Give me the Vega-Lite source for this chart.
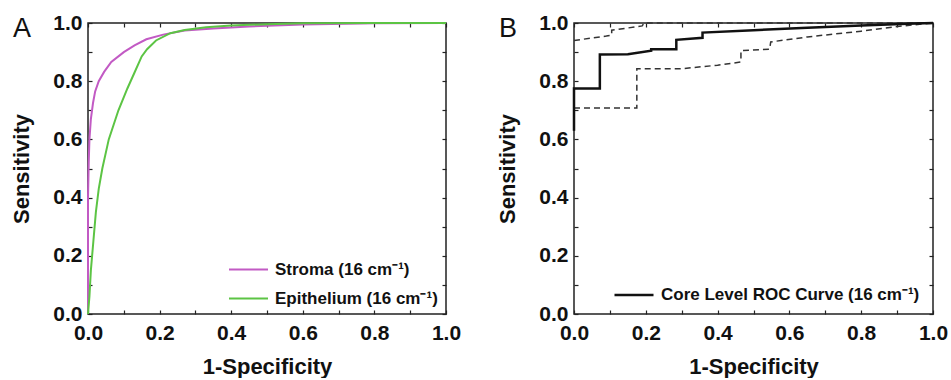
{
  "$schema": "https://vega.github.io/schema/vega-lite/v6.json",
  "background": "white",
  "padding": {"left": 10, "top": 11, "right": 0, "bottom": 0},
  "bounds": "flush",
  "spacing": 128,
  "resolve": {"scale": {"color": "independent"}, "legend": {"color": "independent"}},
  "config": {
    "font": "Liberation Sans",
    "view": {"stroke": "#222", "strokeWidth": 1.5},
    "axis": {
      "domain": false, "grid": false, "tickColor": "#222", "tickSize": -4, "tickWidth": 1.2,
      "labelFont": "Liberation Sans", "labelFontWeight": "bold", "labelFontSize": 21, "labelColor": "#111",
      "titleFont": "Liberation Sans", "titleFontWeight": "bold", "titleFontSize": 22, "titleColor": "#111",
      "labelFlush": false, "labelOverlap": false
    },
    "legend": {
      "orient": "none", "symbolType": "stroke", "symbolSize": 1521, "symbolStrokeWidth": 2,
      "labelFont": "Liberation Sans", "labelFontWeight": "bold", "labelFontSize": 17, "labelColor": "#111",
      "labelOffset": 6, "rowPadding": -10, "padding": 0, "labelLimit": 400
    },
    "title": {"font": "Liberation Sans", "fontSize": 27, "fontWeight": "normal", "color": "#111", "anchor": "start", "frame": "group", "offset": 0, "baseline": "alphabetic"}
  },
  "hconcat": [
    {
      "width": 358, "height": 291,
      "title": {"text": "A", "dx": -75, "dy": 35},
      "data": {"values": [
        {"series": "Stroma (16 cm⁻¹)", "fpr": 0, "tpr": 0},
        {"series": "Stroma (16 cm⁻¹)", "fpr": 0, "tpr": 0.4},
        {"series": "Stroma (16 cm⁻¹)", "fpr": 0.002, "tpr": 0.52},
        {"series": "Stroma (16 cm⁻¹)", "fpr": 0.004, "tpr": 0.6},
        {"series": "Stroma (16 cm⁻¹)", "fpr": 0.008, "tpr": 0.67},
        {"series": "Stroma (16 cm⁻¹)", "fpr": 0.014, "tpr": 0.725},
        {"series": "Stroma (16 cm⁻¹)", "fpr": 0.02, "tpr": 0.765},
        {"series": "Stroma (16 cm⁻¹)", "fpr": 0.03, "tpr": 0.8},
        {"series": "Stroma (16 cm⁻¹)", "fpr": 0.045, "tpr": 0.832},
        {"series": "Stroma (16 cm⁻¹)", "fpr": 0.065, "tpr": 0.866},
        {"series": "Stroma (16 cm⁻¹)", "fpr": 0.1, "tpr": 0.9},
        {"series": "Stroma (16 cm⁻¹)", "fpr": 0.13, "tpr": 0.923},
        {"series": "Stroma (16 cm⁻¹)", "fpr": 0.163, "tpr": 0.944},
        {"series": "Stroma (16 cm⁻¹)", "fpr": 0.21, "tpr": 0.96},
        {"series": "Stroma (16 cm⁻¹)", "fpr": 0.27, "tpr": 0.974},
        {"series": "Stroma (16 cm⁻¹)", "fpr": 0.35, "tpr": 0.981},
        {"series": "Stroma (16 cm⁻¹)", "fpr": 0.45, "tpr": 0.988},
        {"series": "Stroma (16 cm⁻¹)", "fpr": 0.6, "tpr": 0.995},
        {"series": "Stroma (16 cm⁻¹)", "fpr": 0.8, "tpr": 0.999},
        {"series": "Stroma (16 cm⁻¹)", "fpr": 1, "tpr": 1},
        {"series": "Epithelium (16 cm⁻¹)", "fpr": 0, "tpr": 0},
        {"series": "Epithelium (16 cm⁻¹)", "fpr": 0.004, "tpr": 0.06},
        {"series": "Epithelium (16 cm⁻¹)", "fpr": 0.008, "tpr": 0.15},
        {"series": "Epithelium (16 cm⁻¹)", "fpr": 0.015, "tpr": 0.25},
        {"series": "Epithelium (16 cm⁻¹)", "fpr": 0.022, "tpr": 0.35},
        {"series": "Epithelium (16 cm⁻¹)", "fpr": 0.03, "tpr": 0.43},
        {"series": "Epithelium (16 cm⁻¹)", "fpr": 0.04, "tpr": 0.5},
        {"series": "Epithelium (16 cm⁻¹)", "fpr": 0.058, "tpr": 0.6},
        {"series": "Epithelium (16 cm⁻¹)", "fpr": 0.085, "tpr": 0.7},
        {"series": "Epithelium (16 cm⁻¹)", "fpr": 0.11, "tpr": 0.775},
        {"series": "Epithelium (16 cm⁻¹)", "fpr": 0.13, "tpr": 0.83},
        {"series": "Epithelium (16 cm⁻¹)", "fpr": 0.15, "tpr": 0.885},
        {"series": "Epithelium (16 cm⁻¹)", "fpr": 0.165, "tpr": 0.91},
        {"series": "Epithelium (16 cm⁻¹)", "fpr": 0.19, "tpr": 0.94},
        {"series": "Epithelium (16 cm⁻¹)", "fpr": 0.23, "tpr": 0.965},
        {"series": "Epithelium (16 cm⁻¹)", "fpr": 0.27, "tpr": 0.976},
        {"series": "Epithelium (16 cm⁻¹)", "fpr": 0.33, "tpr": 0.985},
        {"series": "Epithelium (16 cm⁻¹)", "fpr": 0.4, "tpr": 0.991},
        {"series": "Epithelium (16 cm⁻¹)", "fpr": 0.5, "tpr": 0.996},
        {"series": "Epithelium (16 cm⁻¹)", "fpr": 0.6, "tpr": 0.999},
        {"series": "Epithelium (16 cm⁻¹)", "fpr": 0.8, "tpr": 1},
        {"series": "Epithelium (16 cm⁻¹)", "fpr": 1, "tpr": 1}
      ]},
      "resolve": {"axis": {"x": "independent", "y": "independent"}},
      "layer": [
        {
          "mark": {"type": "line", "strokeWidth": 2},
          "encoding": {
            "x": {"field": "fpr", "type": "quantitative", "scale": {"domain": [0, 1], "nice": false, "zero": false},
              "axis": {"orient": "bottom", "title": "1-Specificity", "values": [0, 0.1, 0.2, 0.3, 0.4, 0.5, 0.6, 0.7, 0.8, 0.9, 1],
                "labelExpr": "abs(datum.value*5 - round(datum.value*5)) < 0.001 ? format(datum.value, '.1f') : ''",
                "labelPadding": 12, "titlePadding": 13}},
            "y": {"field": "tpr", "type": "quantitative", "scale": {"domain": [0, 1], "nice": false, "zero": false},
              "axis": {"orient": "left", "title": "Sensitivity", "values": [0, 0.1, 0.2, 0.3, 0.4, 0.5, 0.6, 0.7, 0.8, 0.9, 1],
                "labelExpr": "abs(datum.value*5 - round(datum.value*5)) < 0.001 ? format(datum.value, '.1f') : ''",
                "labelPadding": 10, "titlePadding": 19}},
            "color": {"field": "series", "type": "nominal",
              "scale": {"domain": ["Stroma (16 cm⁻¹)", "Epithelium (16 cm⁻¹)"], "range": ["#c25ac4", "#5cc444"]},
              "legend": {"title": null, "legendX": 140, "legendY": 226}},
            "order": [{"field": "fpr", "type": "quantitative"}, {"field": "tpr", "type": "quantitative"}]
          }
        },
        {
          "mark": {"type": "point", "opacity": 0},
          "encoding": {
            "x": {"field": "fpr", "type": "quantitative", "scale": {"domain": [0, 1], "nice": false, "zero": false},
              "axis": {"orient": "top", "title": null, "labels": false, "values": [0, 0.1, 0.2, 0.3, 0.4, 0.5, 0.6, 0.7, 0.8, 0.9, 1]}},
            "y": {"field": "tpr", "type": "quantitative", "scale": {"domain": [0, 1], "nice": false, "zero": false},
              "axis": {"orient": "right", "title": null, "labels": false, "values": [0, 0.1, 0.2, 0.3, 0.4, 0.5, 0.6, 0.7, 0.8, 0.9, 1]}}
          }
        }
      ]
    },
    {
      "width": 359, "height": 291,
      "title": {"text": "B", "dx": -75, "dy": 35},
      "data": {"values": [
        {"curve": "core", "fpr": 0, "tpr": 0.63},
        {"curve": "core", "fpr": 0, "tpr": 0.775},
        {"curve": "core", "fpr": 0.072, "tpr": 0.775},
        {"curve": "core", "fpr": 0.072, "tpr": 0.892},
        {"curve": "core", "fpr": 0.15, "tpr": 0.893},
        {"curve": "core", "fpr": 0.215, "tpr": 0.905},
        {"curve": "core", "fpr": 0.215, "tpr": 0.91},
        {"curve": "core", "fpr": 0.285, "tpr": 0.91},
        {"curve": "core", "fpr": 0.285, "tpr": 0.942},
        {"curve": "core", "fpr": 0.358, "tpr": 0.949},
        {"curve": "core", "fpr": 0.358, "tpr": 0.967},
        {"curve": "core", "fpr": 0.5, "tpr": 0.975},
        {"curve": "core", "fpr": 0.65, "tpr": 0.984},
        {"curve": "core", "fpr": 0.8, "tpr": 0.991},
        {"curve": "core", "fpr": 0.93, "tpr": 0.997},
        {"curve": "core", "fpr": 1, "tpr": 1},
        {"curve": "upper", "fpr": 0, "tpr": 0.94},
        {"curve": "upper", "fpr": 0.09, "tpr": 0.955},
        {"curve": "upper", "fpr": 0.105, "tpr": 0.958},
        {"curve": "upper", "fpr": 0.105, "tpr": 0.975},
        {"curve": "upper", "fpr": 0.19, "tpr": 0.99},
        {"curve": "upper", "fpr": 0.195, "tpr": 1},
        {"curve": "upper", "fpr": 1, "tpr": 1},
        {"curve": "lower", "fpr": 0, "tpr": 0.708},
        {"curve": "lower", "fpr": 0.175, "tpr": 0.708},
        {"curve": "lower", "fpr": 0.175, "tpr": 0.843},
        {"curve": "lower", "fpr": 0.3, "tpr": 0.843},
        {"curve": "lower", "fpr": 0.4, "tpr": 0.855},
        {"curve": "lower", "fpr": 0.465, "tpr": 0.866},
        {"curve": "lower", "fpr": 0.465, "tpr": 0.905},
        {"curve": "lower", "fpr": 0.545, "tpr": 0.91},
        {"curve": "lower", "fpr": 0.548, "tpr": 0.935},
        {"curve": "lower", "fpr": 0.65, "tpr": 0.952},
        {"curve": "lower", "fpr": 0.8, "tpr": 0.972},
        {"curve": "lower", "fpr": 0.9, "tpr": 0.988},
        {"curve": "lower", "fpr": 1, "tpr": 1}
      ]},
      "resolve": {"axis": {"x": "independent", "y": "independent"}},
      "layer": [
        {
          "transform": [{"filter": "datum.curve !== 'core'"}],
          "mark": {"type": "line", "strokeWidth": 1.5, "color": "#333", "strokeDash": [6, 4]},
          "encoding": {
            "x": {"field": "fpr", "type": "quantitative", "scale": {"domain": [0, 1], "nice": false, "zero": false},
              "axis": {"orient": "bottom", "title": "1-Specificity", "values": [0, 0.1, 0.2, 0.3, 0.4, 0.5, 0.6, 0.7, 0.8, 0.9, 1],
                "labelExpr": "abs(datum.value*5 - round(datum.value*5)) < 0.001 ? format(datum.value, '.1f') : ''",
                "labelPadding": 12, "titlePadding": 13}},
            "y": {"field": "tpr", "type": "quantitative", "scale": {"domain": [0, 1], "nice": false, "zero": false},
              "axis": {"orient": "left", "title": "Sensitivity", "values": [0, 0.1, 0.2, 0.3, 0.4, 0.5, 0.6, 0.7, 0.8, 0.9, 1],
                "labelExpr": "abs(datum.value*5 - round(datum.value*5)) < 0.001 ? format(datum.value, '.1f') : ''",
                "labelPadding": 10, "titlePadding": 19}},
            "detail": {"field": "curve", "type": "nominal"},
            "order": [{"field": "fpr", "type": "quantitative"}, {"field": "tpr", "type": "quantitative"}]
          }
        },
        {
          "transform": [{"filter": "datum.curve === 'core'"}],
          "mark": {"type": "line", "strokeWidth": 2.5},
          "encoding": {
            "x": {"field": "fpr", "type": "quantitative", "scale": {"domain": [0, 1], "nice": false, "zero": false},
              "axis": {"orient": "top", "title": null, "labels": false, "values": [0, 0.1, 0.2, 0.3, 0.4, 0.5, 0.6, 0.7, 0.8, 0.9, 1]}},
            "y": {"field": "tpr", "type": "quantitative", "scale": {"domain": [0, 1], "nice": false, "zero": false},
              "axis": {"orient": "right", "title": null, "labels": false, "values": [0, 0.1, 0.2, 0.3, 0.4, 0.5, 0.6, 0.7, 0.8, 0.9, 1]}},
            "color": {"datum": "Core Level ROC Curve (16 cm⁻¹)", "type": "nominal", "scale": {"range": ["#111"]},
              "legend": {"title": null, "legendX": 39, "legendY": 251, "symbolStrokeWidth": 2.5}},
            "order": [{"field": "fpr", "type": "quantitative"}, {"field": "tpr", "type": "quantitative"}]
          }
        }
      ]
    }
  ]
}
